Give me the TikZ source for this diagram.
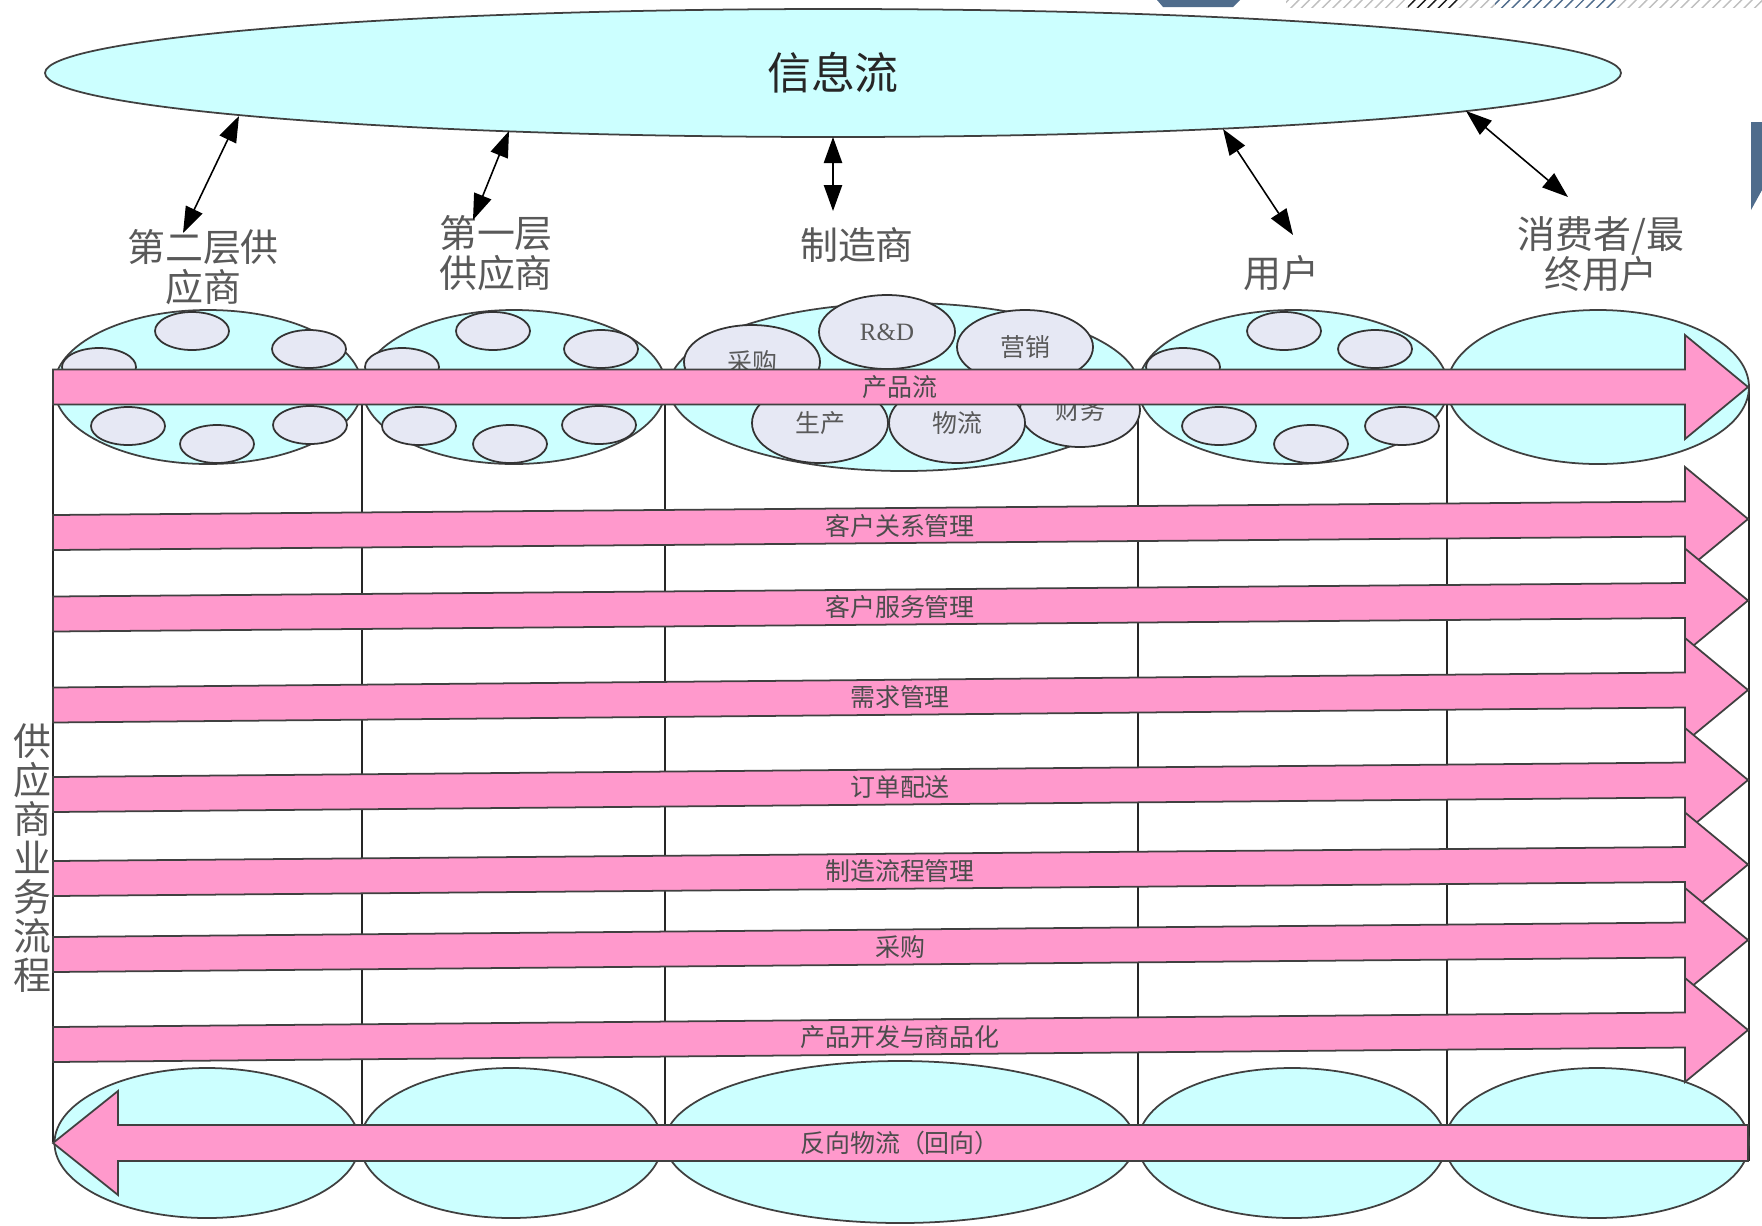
\documentclass[tikz,border=0pt]{standalone}
\usepackage{fontspec}
\setmainfont{Noto Sans CJK SC}
\newfontfamily\latinrm{Liberation Serif}
\usetikzlibrary{shapes.geometric,arrows.meta,patterns}

\definecolor{infocyan}{HTML}{CCFFFF}
\definecolor{memberblue}{HTML}{E6E8F4}
\definecolor{flowpink}{HTML}{FF99CC}
\definecolor{slate}{HTML}{4F6C8C}

% one business process arrow: name, left centre, right centre, text
\newcommand{\procflow}[4]{%
  \draw[flowarrow] (53,{#2-17.5}) -- (1685,{#3-17.5}) -- (1685,{#3-52}) -- (1748,#3)
    -- (1685,{#3+52}) -- (1685,{#3+17.5}) -- (53,{#2+17.5}) -- cycle;
  \node[flowtext] (#1) at (900,{#2+(#3-#2)*0.519}) {#4};
}

\begin{document}
\begin{tikzpicture}[x=0.1mm,y=-0.1mm,
  cluster/.style={ellipse,draw=black!75,fill=infocyan,inner sep=0pt,line width=0.5pt},
  member/.style={ellipse,draw=black!80,fill=memberblue,inner sep=0pt,line width=0.5pt,
    minimum width=7.4mm,minimum height=3.8mm},
  unit/.style={member,minimum width=13.6mm,minimum height=7.4mm,
    font=\fontsize{7.1}{8}\selectfont,text=black!65},
  flowarrow/.style={draw=black!75,fill=flowpink,line width=0.5pt},
  flowtext/.style={font=\fontsize{7.1}{8}\selectfont,text=black!70,inner sep=0pt},
  partner/.style={font=\fontsize{10.8}{11.4}\selectfont,text=black!65,align=center,inner sep=0pt},
  link/.style={{Triangle[length=7.4pt,width=5.2pt]}-{Triangle[length=7.4pt,width=5.2pt]},line width=0.45pt},
  divider/.style={draw=black!85,line width=0.45pt}]

\useasboundingbox (0,0) rectangle (1762,1225);

% bits of the slide behind
\fill[slate] (1157,0) -- (1240,0) -- (1233,7) -- (1163,7) -- cycle;
\fill[pattern=north east lines,pattern color=black!25] (1286,0) rectangle (1408,7);
\fill[pattern=north east lines,pattern color=black!90] (1408,0) rectangle (1459,7);
\fill[pattern=north east lines,pattern color=black!25] (1459,0) rectangle (1495,7);
\fill[pattern=north east lines,pattern color=slate] (1495,0) rectangle (1617,7);
\fill[pattern=north east lines,pattern color=black!25] (1617,0) rectangle (1762,7);
\fill[slate] (1751,122) -- (1762,122) -- (1762,190) -- (1751,210) -- cycle;

% information flow
\node[cluster,minimum width=157.6mm,minimum height=12.8mm,
  font=\fontsize{12.5}{14}\selectfont,text=black!85] (info) at (833,73) {信息流};

\node[partner] (tier2) at (203,267) {第二层供\\应商};
\node[partner] (tier1) at (496,253) {第一层\\供应商};
\node[partner] (maker) at (857,245) {制造商};
\node[partner] (user)  at (1281,273) {用户};
\node[partner] (final) at (1601,254) {消费者/最\\终用户};

\coordinate (tier2end) at (183,233);
\coordinate (tier1end) at (473,220);
\coordinate (makerend) at (833,211);
\coordinate (userend)  at (1293,235);
\coordinate (finalend) at (1568,197);

\draw[link] ([shift={(-594,43)}]info.center) -- (tier2end);
\draw[link] ([shift={(-324,58)}]info.center) -- (tier1end);
\draw[link] ([shift={(0,64)}]info.center) -- (makerend);
\draw[link] ([shift={(390,56)}]info.center) -- (userend);
\draw[link] ([shift={(633,38)}]info.center) -- (finalend);

% column lines
\draw[divider] (53,388) -- (53,1142);
\draw[divider] (362,388) -- (362,1142);
\draw[divider] (665,388) -- (665,1142);
\draw[divider] (1138,388) -- (1138,1142);
\draw[divider] (1447,388) -- (1447,1142);
\draw[divider] (1749,388) -- (1749,1161);

% top row of partners
\node[cluster,minimum width=30.8mm,minimum height=15.4mm] (s2) at (208,387) {};
\node[member] (s2a) at ([shift={(-16,-56)}]s2) {};
\node[member] (s2b) at ([shift={(101,-38)}]s2) {};
\node[member] (s2c) at ([shift={(-109,-20)}]s2) {};
\node[member] (s2d) at ([shift={(-80,39)}]s2) {};
\node[member] (s2e) at ([shift={(9,57)}]s2) {};
\node[member] (s2f) at ([shift={(102,38)}]s2) {};

\node[cluster,minimum width=30.4mm,minimum height=15.4mm] (s1) at (514,387) {};
\node[member] (s1a) at ([shift={(-21,-56)}]s1) {};
\node[member] (s1b) at ([shift={(87,-38)}]s1) {};
\node[member] (s1c) at ([shift={(-112,-20)}]s1) {};
\node[member] (s1d) at ([shift={(-95,39)}]s1) {};
\node[member] (s1e) at ([shift={(-4,57)}]s1) {};
\node[member] (s1f) at ([shift={(85,38)}]s1) {};

\node[cluster,minimum width=47mm,minimum height=16.8mm] (mf) at (904,387) {};
\node[unit] (buy)  at (752,362) {采购};
\node[unit] (rnd)  at (887,332) {\latinrm R\&D};
\node[unit] (sell) at (1025,347) {营销};
\node[unit,minimum width=12mm] (fin) at (1080,410) {财务};
\node[unit,minimum height=8mm] (make) at (820,423) {生产};
\node[unit,minimum height=8mm] (logi) at (957,423) {物流};

\node[cluster,minimum width=31mm,minimum height=15.4mm] (us) at (1293,387) {};
\node[member] (usa) at ([shift={(-9,-56)}]us) {};
\node[member] (usb) at ([shift={(82,-38)}]us) {};
\node[member] (usc) at ([shift={(-110,-20)}]us) {};
\node[member] (usd) at ([shift={(-74,39)}]us) {};
\node[member] (use) at ([shift={(18,57)}]us) {};
\node[member] (usf) at ([shift={(109,39)}]us) {};

\node[cluster,minimum width=30.2mm,minimum height=15.4mm] (cs) at (1598,387) {};

% bottom row
\node[cluster,minimum width=30.5mm,minimum height=15mm] (s2low) at (207,1143) {};
\node[cluster,minimum width=30.2mm,minimum height=15mm] (s1low) at (511,1143) {};
\node[cluster,minimum width=47mm,minimum height=16.2mm] (mflow) at (900,1142) {};
\node[cluster,minimum width=30.8mm,minimum height=15mm] (uslow) at (1292,1143) {};
\node[cluster,minimum width=30.4mm,minimum height=15mm] (cslow) at (1597,1143) {};

% flows
\procflow{product}{387}{387}{产品流}
\procflow{crm}{532.5}{519}{客户关系管理}
\procflow{csm}{614}{600.5}{客户服务管理}
\procflow{demand}{705}{690}{需求管理}
\procflow{order}{794.5}{780}{订单配送}
\procflow{mfg}{878.5}{864.5}{制造流程管理}
\procflow{purchase}{954.5}{940}{采购}
\procflow{develop}{1044.5}{1030}{产品开发与商品化}

\draw[flowarrow] (1748,1125) -- (118,1125) -- (118,1091) -- (53,1143)
  -- (118,1195) -- (118,1161) -- (1748,1161) -- cycle;
\node[flowtext] (reverse) at (900,1143) {反向物流（回向）};

\node[partner,font=\fontsize{10.8}{11.1}\selectfont] (bizproc) at (32,858) {供\\应\\商\\业\\务\\流\\程};

\end{tikzpicture}
\end{document}
